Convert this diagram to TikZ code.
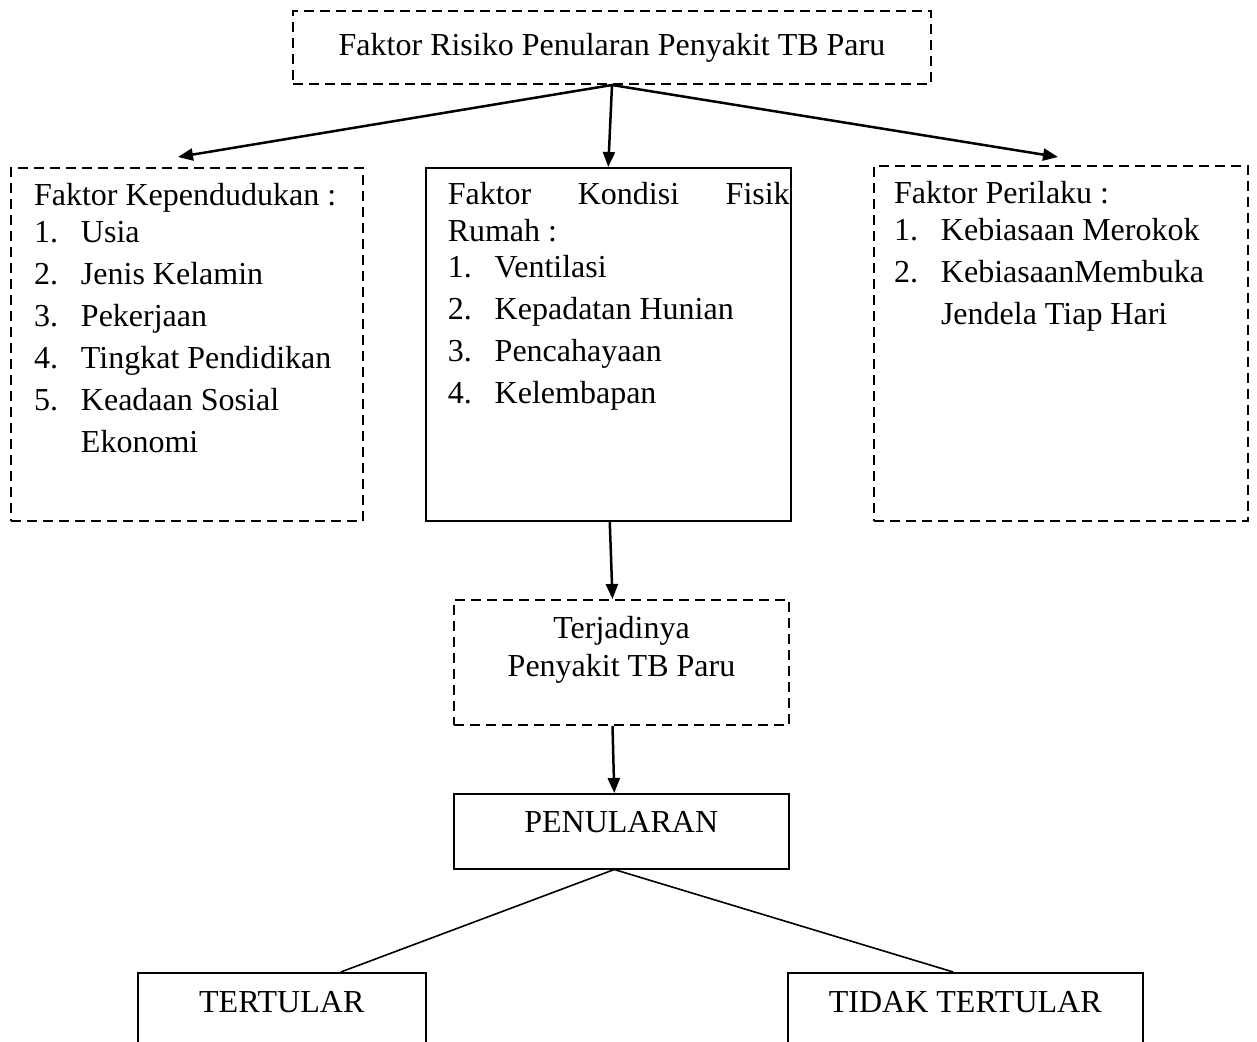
\documentclass[tikz,border=0pt]{standalone}
\usepackage{fontspec}
\setmainfont{Liberation Serif}
\usetikzlibrary{arrows.meta, positioning}
\newcommand{\itm}[2]{\makebox[47pt][l]{#1}#2}
\newcommand{\boxtext}[3]{\parbox[t][#2][t]{#1}{#3}}
\tikzset{
  dbox/.style={draw, dash pattern=on 10pt off 6pt, line width=2pt,
               anchor=north west, inner sep=0pt},
  sbox/.style={draw, line width=1.5pt, anchor=north west, inner sep=0pt},
  jarr/.style={-{Triangle[length=15pt, width=12pt]}, line width=2.5pt},
  jline/.style={line width=1.6pt},
}

\begin{document}
\begin{tikzpicture}[x=1pt, y=-1pt, font=\fontsize{32}{42}\selectfont]
\useasboundingbox (0,0) rectangle (1257,1041);
\clip (0,0) rectangle (1257,1041);
% ---- top ----
\node[dbox, minimum width=638pt, minimum height=73pt] (risk) at (292,10)
  {Faktor Risiko Penularan Penyakit TB Paru};
% ---- three factor boxes ----
\node[dbox, inner xsep=23pt, inner ysep=15pt] (pend) at (10,167)
  {\boxtext{306pt}{323pt}{Faktor Kependudukan :\\[-5pt]
   \itm{1.}{Usia}\\
   \itm{2.}{Jenis Kelamin}\\
   \itm{3.}{Pekerjaan}\\
   \itm{4.}{Tingkat Pendidikan}\\
   \itm{5.}{Keadaan Sosial}\\
   \hspace*{47pt}Ekonomi}};
\node[sbox, inner ysep=15pt] (fisik) at (425,167)
  {\hspace*{22pt}\boxtext{342pt}{323pt}{\makebox[342pt][s]{Faktor Kondisi Fisik}\\[-5pt]
   Rumah :\\[-6pt]
   \itm{1.}{Ventilasi}\\
   \itm{2.}{Kepadatan Hunian}\\
   \itm{3.}{Pencahayaan}\\
   \itm{4.}{Kelembapan}}\hspace*{1pt}};
\node[dbox, inner xsep=20pt, inner ysep=15pt] (laku) at (873,165)
  {\boxtext{334pt}{325pt}{Faktor Perilaku :\\[-5pt]
   \itm{1.}{Kebiasaan Merokok}\\
   \itm{2.}{KebiasaanMembuka}\\
   \hspace*{47pt}Jendela Tiap Hari}};
% ---- outcome chain ----
\node[dbox, inner ysep=16pt] (terjadi) at (453,599)
  {\boxtext{335pt}{93pt}{\centering Terjadinya\\[-4pt] Penyakit TB Paru}};
\node[sbox, inner ysep=18pt] (tular) at (453,793)
  {\boxtext{335pt}{39pt}{\centering PENULARAN}};
\node[sbox, inner ysep=19pt] (ya) at (137,972)
  {\boxtext{288pt}{100pt}{\centering TERTULAR}};
\node[sbox, inner ysep=19pt] (tidak) at (787,972)
  {\boxtext{355pt}{100pt}{\centering TIDAK TERTULAR}};
% ---- connectors ----
\draw[jarr] (risk.south) -- ([xshift=168pt, yshift=10pt]pend.north west);
\draw[jarr] (risk.south) -- (fisik.north);
\draw[jarr] (risk.south) -- ([xshift=185pt, yshift=8pt]laku.north west);
\draw[jarr] ([xshift=1.5pt]fisik.south) -- ([xshift=-9pt]terjadi.north);
\draw[jarr] ([xshift=-9pt]terjadi.south) -- ([xshift=-7pt]tular.north);
\draw[jline] ([xshift=-7pt]tular.south) -- ([xshift=59pt]ya.north);
\draw[jline] ([xshift=-7pt]tular.south) -- ([xshift=-12pt]tidak.north);
\end{tikzpicture}
\end{document}
